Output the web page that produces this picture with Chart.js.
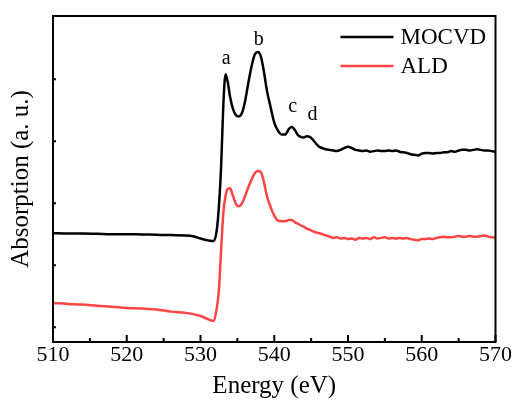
<!DOCTYPE html>
<html>
<head>
<meta charset="utf-8">
<script src="https://cdn.jsdelivr.net/npm/chart.js@4.4.1/dist/chart.umd.min.js"></script>
<style>
  html, body { margin: 0; padding: 0; background: #fff; }
  #wrap { width: 513px; height: 401px; }
</style>
</head>
<body>
<div id="wrap"><canvas id="xas" width="513" height="401"></canvas></div>
<script>
// Energy grid (eV)
const energy = [
  510, 512, 514, 516, 518, 520, 522, 524, 526, 528,
  529, 530, 531,
  531.5, 531.8, 532.2, 532.5, 532.8, 533.1, 533.4, 533.7, 534.0, 534.4,
  534.8, 535.2, 535.6, 536.0, 536.5, 537.0, 537.4, 537.8, 538.2, 538.6,
  539.0, 539.5, 540.0, 540.5, 541.0, 541.5, 542.0, 542.4, 542.8, 543.2,
  543.6, 544.0, 544.4, 544.8, 545.2, 545.6,
  546.0, 546.5, 547.0, 547.5, 548.0, 548.5, 549.0, 549.5, 550.0, 550.5,
  551.0, 551.5, 552.0, 552.5, 553.0, 553.5, 554.0, 554.5, 555.0, 555.5,
  556.0, 556.5, 557.0, 557.5, 558.0, 558.5, 559.0, 559.5, 560.0, 560.5,
  561.0, 561.5, 562.0, 562.5, 563.0, 563.5, 564.0, 564.5, 565.0, 565.5,
  566.0, 566.5, 567.0, 567.5, 568.0, 568.5, 569.0, 569.5, 570.0
];

const mocvd = [
  1.516, 1.51, 1.51, 1.505, 1.50, 1.50, 1.495, 1.49, 1.485, 1.48,
  1.465, 1.43, 1.40,
  1.39, 1.39, 1.56, 1.95, 2.60, 3.60, 4.08, 3.95, 3.72, 3.52,
  3.42, 3.40, 3.45, 3.62, 3.95, 4.25, 4.41, 4.44, 4.36, 4.12,
  3.82, 3.55, 3.30, 3.17, 3.11, 3.11, 3.20, 3.23, 3.18, 3.10,
  3.07, 3.06, 3.08, 3.07, 3.03, 2.97,
  2.92, 2.89, 2.87, 2.86, 2.85, 2.84, 2.86, 2.89, 2.91, 2.89,
  2.86, 2.85, 2.84, 2.85, 2.83, 2.84, 2.85, 2.84, 2.84, 2.85,
  2.84, 2.85, 2.83, 2.82, 2.81, 2.79, 2.78, 2.77, 2.80, 2.81,
  2.81, 2.80, 2.81, 2.81, 2.82, 2.82, 2.84, 2.83, 2.85, 2.86,
  2.86, 2.85, 2.86, 2.87, 2.86, 2.85, 2.85, 2.84, 2.83
];

const ald = [
  0.39, 0.375, 0.365, 0.345, 0.33, 0.31, 0.30, 0.285, 0.25, 0.23,
  0.21, 0.18, 0.13,
  0.105, 0.10, 0.30, 0.60, 1.25, 1.85, 2.12, 2.23, 2.24, 2.12,
  1.99, 1.95, 1.99, 2.10, 2.26, 2.40, 2.49, 2.52, 2.50, 2.34,
  2.12, 1.94, 1.80, 1.72, 1.71, 1.71, 1.73, 1.73, 1.69, 1.67,
  1.64, 1.62, 1.59, 1.57, 1.55, 1.53,
  1.52, 1.50, 1.48, 1.46, 1.44, 1.45, 1.43, 1.44, 1.42, 1.43,
  1.41, 1.44, 1.43, 1.44, 1.42, 1.45, 1.43, 1.44, 1.45, 1.43,
  1.44, 1.43, 1.44, 1.43, 1.44, 1.42, 1.41, 1.40, 1.42, 1.42,
  1.43, 1.42, 1.44, 1.45, 1.46, 1.45, 1.45, 1.46, 1.47, 1.46,
  1.46, 1.47, 1.46, 1.46, 1.47, 1.48, 1.46, 1.45, 1.44
];

// peak letters, in data units (energy, absorption at the text baseline)
const peakNames = ['a', 'b', 'c', 'd'];
const peakEnergy = [533.5, 537.9, 542.5, 545.2];
const peakLevel = [4.24, 4.55, 3.47, 3.34];

const seriesNames = ['MOCVD', 'ALD'];
const seriesColors = ['#000000', '#ff4444'];

const SERIF = '"Liberation Serif", "Times New Roman", serif';

function toPoints(ys) {
  return energy.map((e, i) => ({ x: e, y: ys[i] }));
}

// frame, inward ticks, peak letters, legend
const decorations = {
  id: 'decorations',
  afterDraw(chart) {
    const { ctx, chartArea: a, scales: { x, y } } = chart;
    ctx.save();
    ctx.strokeStyle = '#000';
    ctx.lineWidth = 2;
    ctx.strokeRect(a.left, a.top, a.right - a.left, a.bottom - a.top);

    ctx.lineWidth = 2;
    ctx.beginPath();
    x.ticks.forEach((t) => {
      const px = x.getPixelForValue(t.value);
      ctx.moveTo(px, a.bottom);
      ctx.lineTo(px, a.bottom - 7);
      if (t.value + 5 < x.max) {
        const pm = x.getPixelForValue(t.value + 5);
        ctx.moveTo(pm, a.bottom);
        ctx.lineTo(pm, a.bottom - 4);
      }
    });
    y.ticks.forEach((t) => {
      if (!Number.isInteger(t.value)) return;
      const py = y.getPixelForValue(t.value);
      ctx.moveTo(a.left, py);
      ctx.lineTo(a.left + 3, py);
    });
    ctx.stroke();

    ctx.fillStyle = '#000';
    ctx.font = '20px ' + SERIF;
    ctx.textAlign = 'center';
    ctx.textBaseline = 'alphabetic';
    peakNames.forEach((n, i) => {
      ctx.fillText(n, x.getPixelForValue(peakEnergy[i]), y.getPixelForValue(peakLevel[i]));
    });

    ctx.font = '23px ' + SERIF;
    ctx.textAlign = 'left';
    ctx.textBaseline = 'middle';
    ctx.lineWidth = 2.5;
    seriesNames.forEach((n, i) => {
      const ly = a.top + 21 + i * 29;
      ctx.strokeStyle = seriesColors[i];
      ctx.beginPath();
      ctx.moveTo(a.right - 155, ly);
      ctx.lineTo(a.right - 102, ly);
      ctx.stroke();
      ctx.fillText(n, a.right - 95, ly + 1);
    });
    ctx.restore();
  }
};

new Chart(document.getElementById('xas'), {
  type: 'scatter',
  data: {
    datasets: [
      {
        label: seriesNames[0],
        data: toPoints(mocvd),
        showLine: true,
        borderColor: seriesColors[0],
        borderWidth: 2.5,
        pointRadius: 0,
        cubicInterpolationMode: 'monotone',
      },
      {
        label: seriesNames[1],
        data: toPoints(ald),
        showLine: true,
        borderColor: seriesColors[1],
        borderWidth: 2.5,
        pointRadius: 0,
        cubicInterpolationMode: 'monotone',
      },
    ],
  },
  options: {
    responsive: false,
    animation: false,
    layout: { padding: { top: 16, right: 17.5, left: 0, bottom: 0 } },
    plugins: {
      legend: { display: false },
      tooltip: { enabled: false },
    },
    scales: {
      x: {
        type: 'linear',
        min: 510,
        max: 570,
        grid: { display: false },
        border: { display: false },
        ticks: {
          stepSize: 10,
          color: '#000',
          padding: -8,
          font: { family: SERIF, size: 22 },
        },
        title: {
          display: true,
          text: 'Energy (eV)',
          color: '#000',
          padding: { top: 7, bottom: 0 },
          font: { family: SERIF, size: 25 },
        },
        afterFit: (s) => { s.height = 59; },
      },
      y: {
        type: 'linear',
        min: -0.24,
        max: 5.02,
        grid: { display: false },
        border: { display: false },
        ticks: { stepSize: 1, display: false },
        title: {
          display: true,
          text: 'Absorption (a. u.)',
          color: '#000',
          padding: { top: 6, bottom: 0 },
          font: { family: SERIF, size: 25 },
        },
        afterFit: (s) => { s.width = 53; },
      },
    },
  },
  plugins: [decorations],
});
</script>
</body>
</html>
